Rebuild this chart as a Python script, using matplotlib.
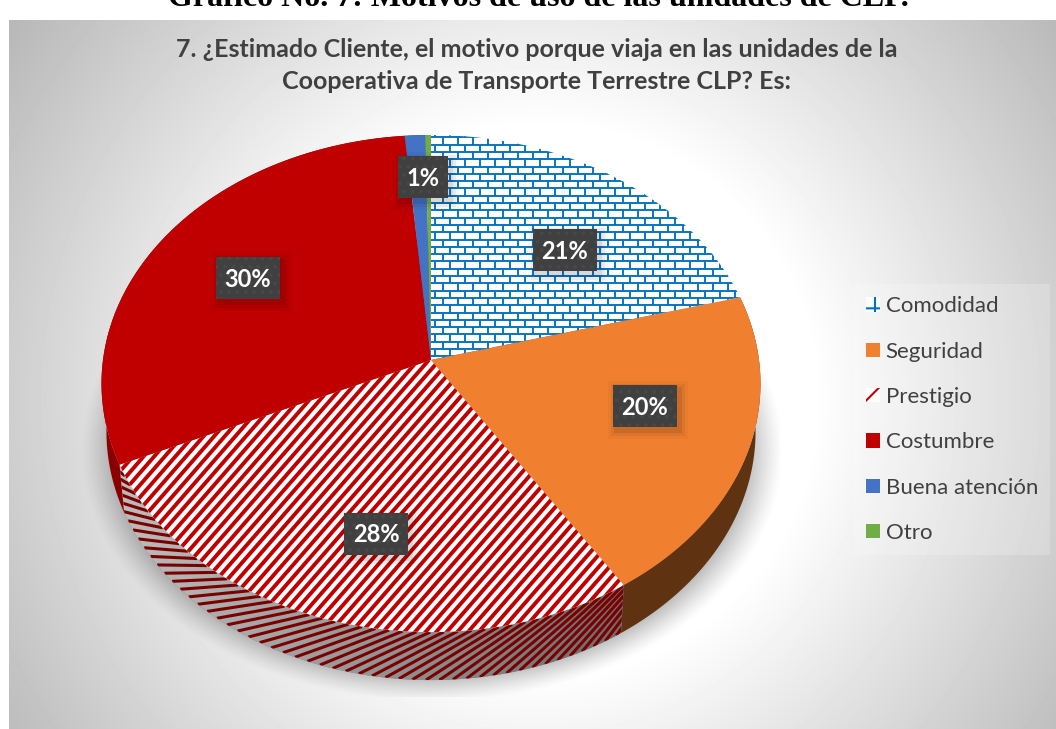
import matplotlib
matplotlib.use('Agg')

import matplotlib.pyplot as plt
import numpy as np
from matplotlib.collections import LineCollection
from matplotlib.patches import Patch, Polygon, Rectangle

plt.rcParams['font.family'] = ['Lato', 'DejaVu Sans']
plt.rcParams['hatch.linewidth'] = 1.5

categories = ['Comodidad', 'Seguridad', 'Prestigio', 'Costumbre', 'Buena atención', 'Otro']
values = [20.8, 20.1, 27.4, 30.3, 1.1, 0.3]
value_labels = ['21%', '20%', '28%', '30%', '1%']
colors = ['#ffffff', '#f07f30', '#ffffff', '#c00000', '#4472c4', '#70ad47']
side_colors = ['#ffffff', '#5f3212', '#808080', '#8a0000', '#2a4478', '#446a2b']

title = '7. ¿Estimado Cliente, el motivo porque viaja en las unidades de la\nCooperativa de Transporte Terrestre CLP? Es:'
heading = 'Gráfico No. 7: Motivos de uso de las unidades de CLP.'

# where the value boxes sit, in pixels
label_x = [565, 645, 376, 248, 423]
label_y = [250, 406, 534, 278, 177]

# tilted disc: hub, radii, perspective, thickness
XC, YC = 431, 360
A, B, K = 246.3, 328, 0.0947
DEPTH, SHRINK = 48, 0.985

W, H = 1056, 729


def top_xy(theta):
    u, v = np.sin(theta), np.cos(theta)
    return XC + B * u / (1 + K * v), YC - A * v / (1 + K * v)


def low_xy(theta):
    u, v = np.sin(theta), np.cos(theta)
    return XC + B * SHRINK * u / (1 + K * v), YC - A * v / (1 + K * v) + DEPTH


def arc(a, b):
    return np.linspace(a, b, max(int(abs(b - a) * 120), 4))


fig = plt.figure(figsize=(W / 100, H / 100), dpi=100)
ax = fig.add_axes([0, 0, 1, 1])
ax.axis('off')

# panel background
yy, xx = np.mgrid[20:H, 9:W]
dist = np.hypot(xx - 540, yy - 400)
ax.imshow(np.minimum(255, 307 - 0.19 * dist), cmap='gray', vmin=0, vmax=255, extent=(9, W, H, 20), zorder=0)

# soft shadow under the pie
yy, xx = np.mgrid[120:697, 80:780]
rad = np.hypot((xx - 432) / 352, (yy - 450) / 252)
shade = np.clip((1.0 - rad) / 0.2, 0, 1) ** 1.3 * 0.62
rgba = np.zeros(shade.shape + (4,))
rgba[..., 3] = shade
ax.imshow(rgba, extent=(80, 780, 697, 120), zorder=1)

# outer wall of each slice
edges = 2 * np.pi * np.cumsum([0] + values) / sum(values)
for i in range(len(values)):
    t = arc(edges[i], edges[i + 1])
    tx, ty = top_xy(t)
    lx, ly = low_xy(t)
    pts = np.column_stack([np.r_[tx, lx[::-1]], np.r_[ty, ly[::-1]]])
    wall = Polygon(pts, closed=True, fc=side_colors[i], ec='none', zorder=2)
    ax.add_patch(wall)
    if categories[i] == 'Prestigio':
        # grey wall goes darker to the right
        grad = np.linspace(190, 108, 256)[None, :]
        im = ax.imshow(grad, cmap='gray', vmin=0, vmax=255, extent=(110, 625, 690, 440), zorder=2.1)
        im.set_clip_path(wall)
        seg = []
        for s in np.arange(edges[i] - 0.3, edges[i + 1] + 0.1, 0.038):
            xa, ya = low_xy(s + 0.24)
            xb, yb = top_xy(s)
            seg.append([(xa, ya), (xb, yb)])
        lines = LineCollection(seg, colors='#7a0000', linewidths=2.2, zorder=2.2)
        ax.add_collection(lines)
        lines.set_clip_path(wall)

# top of each slice
for i in range(len(values)):
    t = arc(edges[i], edges[i + 1])
    tx, ty = top_xy(t)
    pts = np.column_stack([np.r_[XC, tx], np.r_[YC, ty]])
    face = Polygon(pts, closed=True, fc=colors[i], ec='none', zorder=3)
    ax.add_patch(face)
    if categories[i] == 'Comodidad':
        seg = []
        for r, y in enumerate(np.arange(130, 370, 7.3)):
            seg.append([(420, y), (760, y)])
            for x in np.arange(420 + (r % 2) * 7.5, 760, 15):
                seg.append([(x, y), (x, y + 7.3)])
        lines = LineCollection(seg, colors='#0070c0', linewidths=1.35, zorder=3.1)
        ax.add_collection(lines)
        lines.set_clip_path(face)
    if categories[i] == 'Prestigio':
        seg = []
        for x in np.arange(-150, 700, 10.6):
            seg.append([(x, 660), (x + 300 / 1.15, 360)])
        lines = LineCollection(seg, colors='#c00000', linewidths=2.8, zorder=3.1)
        ax.add_collection(lines)
        lines.set_clip_path(face)

# value boxes
for lx, ly, txt in zip(label_x, label_y, value_labels):
    w = 50 if len(txt) == 2 else 64
    for grow, alpha in [(8, 0.03), (5, 0.05), (2, 0.08)]:
        ax.add_patch(Rectangle((lx - w / 2 + 3 - grow, ly - 21 + 4 - grow), w + 2 * grow, 42 + 2 * grow,
                               fc='black', ec='none', alpha=alpha, zorder=4))
    ax.add_patch(Rectangle((lx - w / 2, ly - 21), w, 42, fc='#404040', ec='#484848', lw=0,
                           hatch='..', zorder=4.1))
    ax.text(lx, ly + 1, txt, color='white', fontsize=17, fontweight='bold',
            ha='center', va='center', zorder=5)

# legend
handles = []
for i, name in enumerate(categories):
    if name == 'Comodidad':
        handles.append(Patch(fc='white', ec='#0070c0', hatch='+', lw=0, label=name))
    elif name == 'Prestigio':
        handles.append(Patch(fc='white', ec='#c00000', hatch='//', lw=0, label=name))
    else:
        handles.append(Patch(fc=colors[i], ec='none', label=name))
leg = ax.legend(handles=handles, loc='upper left', bbox_to_anchor=(854, 284), bbox_transform=ax.transData,
                borderaxespad=0, borderpad=0.55, fontsize=16, labelcolor='#404040', labelspacing=1.14,
                handlelength=0.62, handleheight=0.62, handletextpad=0.25, fancybox=False, framealpha=0.2,
                facecolor='white', edgecolor='none')
leg.set_zorder(4)

ax.text(537, 65.5, title, color='#404040', fontsize=18, fontweight='bold', ha='center', va='center',
        linespacing=1.52, zorder=5)
ax.text(538, 6, heading, color='black', fontsize=23, fontweight='bold', family='Liberation Serif',
        ha='center', va='baseline', zorder=5)

ax.set_xlim(0, W)
ax.set_ylim(H, 0)

plt.savefig('out.png', dpi=100)
